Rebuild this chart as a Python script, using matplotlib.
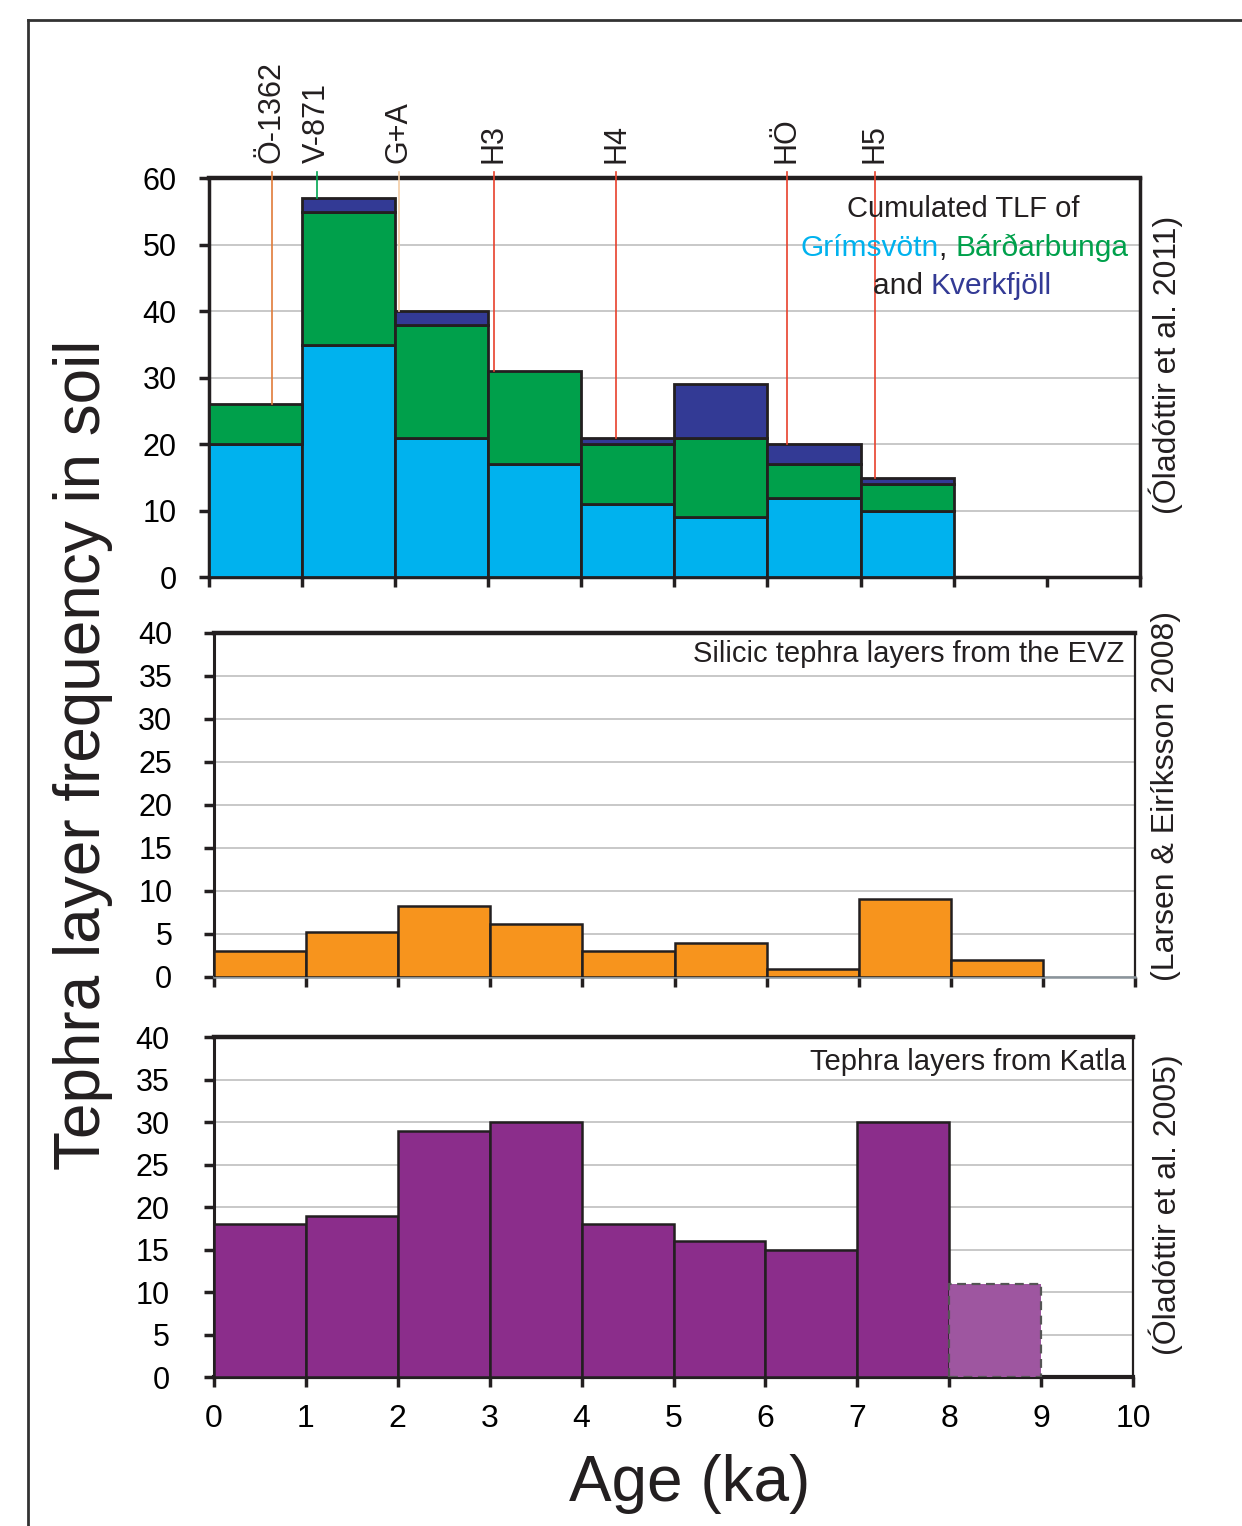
import matplotlib
matplotlib.use("Agg")
import matplotlib.pyplot as plt
from matplotlib.lines import Line2D
import numpy as np

plt.rcParams['font.family'] = ['Liberation Sans', 'DejaVu Sans']
COND = ['Liberation Sans Narrow', 'Liberation Sans', 'DejaVu Sans']

# ---------------- data ----------------
bin_left = [0, 1, 2, 3, 4, 5, 6, 7, 8]
grimsvotn = [20, 35, 21, 17, 11, 9, 12, 10]
bardarbunga = [6, 20, 17, 14, 9, 12, 5, 4]
kverkfjoll = [0, 2, 2, 0, 1, 8, 3, 1]
silicic = [3.0, 5.2, 8.2, 6.1, 3.0, 3.9, 0.9, 9.1, 2.0]
katla = [18, 19, 29, 30, 18, 16, 15, 30]
katla_uncertain = [11]
marker_names = ['Ö-1362', 'V-871', 'G+A', 'H3', 'H4', 'HÖ', 'H5']
marker_ages = [0.68, 1.16, 2.04, 3.06, 4.38, 6.21, 7.15]
marker_colors = ['#e07b39', '#00a651', '#f3cda5', '#e8412c', '#e8412c', '#e8412c', '#e8412c']
top_yticks = [0, 10, 20, 30, 40, 50, 60]
low_yticks = [0, 5, 10, 15, 20, 25, 30, 35, 40]
xticks = [0, 1, 2, 3, 4, 5, 6, 7, 8, 9, 10]

C_BLUE = '#00b2ee'
C_GREEN = '#00a04b'
C_NAVY = '#333a95'
C_ORANGE = '#f7941d'
C_PURPLE = '#8b2d8b'
C_PURPLE_L = '#9e56a0'
EDGE = '#231f20'
GRID = '#c4c4c4'

W, H = 1242, 1526
fig = plt.figure(figsize=(W / 100, H / 100), dpi=100)


def px_axes(l, r, t, b):
    return fig.add_axes([l / W, 1 - b / H, (r - l) / W, (b - t) / H])


ax1 = px_axes(208.5, 1140, 178.3, 577.3)
ax2 = px_axes(214, 1135, 633, 976.7)
ax3 = px_axes(214, 1133, 1037.3, 1377.3)

for ax in (ax1, ax2, ax3):
    ax.set_xlim(0, 10)
    ax.set_xticks(xticks)
    ax.set_axisbelow(True)
    ax.yaxis.grid(True, color=GRID, lw=1.3)
    ax.tick_params(axis='both', direction='out', length=7, width=2.5, color=EDGE)
    ax.tick_params(axis='y', labelsize=22)
    ax.tick_params(axis='x', labelsize=23, pad=12)

# ---------------- top panel ----------------
ax1.set_ylim(0, 60)
ax1.set_yticks(top_yticks)
ax1.tick_params(axis='y', pad=16)
ax1.tick_params(axis='x', labelbottom=False)
n = len(grimsvotn)
g = np.array(grimsvotn, float)
b = np.array(bardarbunga, float)
k = np.array(kverkfjoll, float)
ax1.bar(bin_left[:n], g, width=1, align='edge', color=C_BLUE, edgecolor=EDGE, lw=2, zorder=3)
ax1.bar(bin_left[:n], b, bottom=g, width=1, align='edge', color=C_GREEN, edgecolor=EDGE, lw=2, zorder=3)
mask = k > 0
ax1.bar(np.array(bin_left[:n])[mask], k[mask], bottom=(g + b)[mask], width=1, align='edge',
        color=C_NAVY, edgecolor=EDGE, lw=2, zorder=3)
totals = g + b + k
for name, age, col in zip(marker_names, marker_ages, marker_colors):
    top = totals[int(age)]
    ax1.plot([age, age], [top, 61.0], color=col, lw=1.2, zorder=4, clip_on=False)
    ax1.text(age, 62.3, name, rotation=90, ha='center', va='bottom', fontsize=22,
             color='#231f20', clip_on=False)
for s in ax1.spines.values():
    s.set_color(EDGE)
    s.set_linewidth(2.5)
ax1.spines['top'].set_linewidth(3.2)

ax1.text(8.1, 55.4, 'Cumulated TLF of', ha='center', va='center', fontsize=21,
         family=COND, color='#231f20', zorder=6)
t1 = ax1.text(6.36, 49.5, 'Grímsvötn', ha='left', va='center', fontsize=21.5,
              family=COND, color=C_BLUE, zorder=6)
t2 = ax1.annotate(', ', xy=(1, 0), xycoords=t1, ha='left', va='bottom', fontsize=21.5,
                  family=COND, color='#231f20', zorder=6)
ax1.annotate('Bárðarbunga', xy=(1, 0), xycoords=t2, ha='left', va='bottom', fontsize=21.5,
             family=COND, color=C_GREEN, zorder=6)
t4 = ax1.text(7.13, 43.8, 'and ', ha='left', va='center', fontsize=21.5,
              family=COND, color='#231f20', zorder=6)
ax1.annotate('Kverkfjöll', xy=(1, 0), xycoords=t4, ha='left', va='bottom', fontsize=21.5,
             family=COND, color=C_NAVY, zorder=6)

# ---------------- middle panel ----------------
ax2.set_ylim(0, 40)
ax2.set_yticks(low_yticks)
ax2.tick_params(axis='y', pad=23)
ax2.tick_params(axis='x', labelbottom=False)
ax2.bar(bin_left[:len(silicic)], silicic, width=1, align='edge', color=C_ORANGE,
        edgecolor=EDGE, lw=1.8, zorder=3)
for s in ax2.spines.values():
    s.set_color(EDGE)
    s.set_linewidth(2.2)
ax2.spines['top'].set_linewidth(3.2)
ax2.spines['right'].set_linewidth(1.6)
ax2.spines['bottom'].set_color('#8a949b')
ax2.spines['bottom'].set_linewidth(1.8)
ax2.text(9.88, 37.5, 'Silicic tephra layers from the EVZ', ha='right', va='center',
         fontsize=21, family=COND, color='#231f20')

# ---------------- bottom panel ----------------
ax3.set_ylim(0, 40)
ax3.set_yticks(low_yticks)
ax3.tick_params(axis='y', pad=25)
nk = len(katla)
ax3.bar(bin_left[:nk], katla, width=1, align='edge', color=C_PURPLE,
        edgecolor=EDGE, lw=1.8, zorder=3)
ax3.bar(bin_left[nk:nk + len(katla_uncertain)], katla_uncertain, width=1, align='edge',
        color=C_PURPLE_L, edgecolor='#555555', lw=1.6, linestyle=(0, (4, 2.5)), zorder=3)
for s in ax3.spines.values():
    s.set_color(EDGE)
    s.set_linewidth(2.2)
ax3.spines['top'].set_linewidth(3.2)
ax3.spines['right'].set_linewidth(1.6)
ax3.spines['bottom'].set_linewidth(3)
ax3.text(9.93, 37.1, 'Tephra layers from Katla', ha='right', va='center',
         fontsize=21, family=COND, color='#231f20')

# ---------------- figure-level texts ----------------
fig.text(83 / W, 1 - 755 / H, 'Tephra layer frequency in soil', rotation=90,
         ha='center', va='center', fontsize=46, color='#231f20')
fig.text(690 / W, 1 - 1484 / H, 'Age (ka)', ha='center', va='center', fontsize=46,
         color='#231f20')
fig.text(1166 / W, 1 - 365 / H, '(Óladóttir et al. 2011)', rotation=90,
         ha='center', va='center', fontsize=23, color='#231f20')
fig.text(1166 / W, 1 - 796 / H, '(Larsen & Eiríksson 2008)', rotation=90,
         ha='center', va='center', fontsize=23, color='#231f20')
fig.text(1166 / W, 1 - 1205 / H, '(Óladóttir et al. 2005)', rotation=90,
         ha='center', va='center', fontsize=23, color='#231f20')

# outer frame
fig.add_artist(Line2D([28 / W, 1.0], [1 - 20 / H, 1 - 20 / H], color='#333333', lw=2))
fig.add_artist(Line2D([28 / W, 28 / W], [1 - 20 / H, 0.0], color='#333333', lw=2))

fig.savefig('out.png', dpi=100)
